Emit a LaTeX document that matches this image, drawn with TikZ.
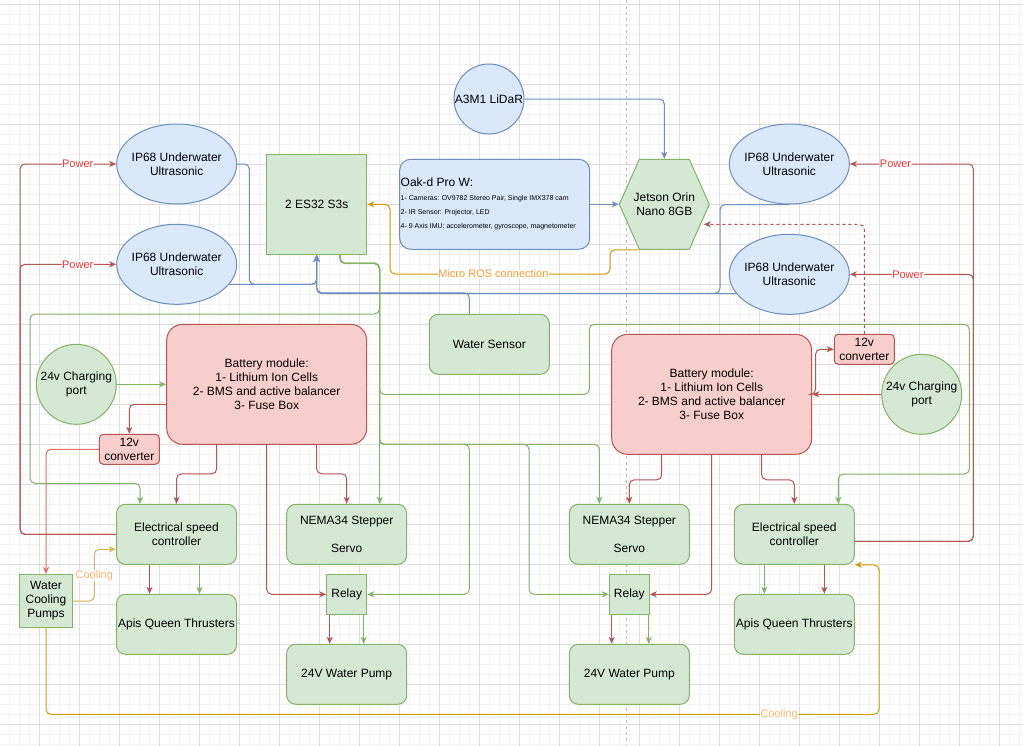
\documentclass[tikz,border=0pt]{standalone}
\usepackage{fontspec}
\setmainfont{Liberation Sans}
\usetikzlibrary{shapes.geometric, arrows.meta}

\definecolor{blueFill}{HTML}{DAE8FC}
\definecolor{blueDraw}{HTML}{6C8EBF}
\definecolor{greenFill}{HTML}{D5E8D4}
\definecolor{greenDraw}{HTML}{82B366}
\definecolor{redFill}{HTML}{F8CECC}
\definecolor{redDraw}{HTML}{B85450}
\definecolor{pinkDraw}{HTML}{EA6B66}
\definecolor{orangeDraw}{HTML}{D79B00}
\definecolor{yellowDraw}{HTML}{D6B656}
\definecolor{powerText}{HTML}{FF3333}
\definecolor{rosText}{HTML}{FF9933}
\definecolor{coolText}{HTML}{FFB570}
\definecolor{gridMajor}{HTML}{DEDEDE}
\definecolor{gridMinor}{HTML}{F3F3F3}

\tikzstyle{sensors} = [ellipse, minimum width=120pt, minimum height=80pt, inner xsep=-15pt, inner ysep=0pt, align=center, draw=blueDraw, fill=blueFill]
\tikzstyle{lidarNode} = [circle, minimum size=70pt, inner sep=0pt, align=center, draw=blueDraw, fill=blueFill]
\tikzstyle{cameraBox} = [rectangle, rounded corners=11pt, minimum width=190pt, minimum height=90pt, text width=188pt, inner sep=1pt, align=flush left, draw=blueDraw, fill=blueFill]
\tikzstyle{controllers} = [rectangle, rounded corners=9pt, minimum width=120pt, minimum height=60pt, inner sep=1pt, align=center, draw=greenDraw, fill=greenFill]
\tikzstyle{boards} = [rectangle, inner sep=1pt, align=center, draw=greenDraw, fill=greenFill]
\tikzstyle{chargers} = [circle, minimum size=80pt, inner sep=1pt, align=center, draw=greenDraw, fill=greenFill]
\tikzstyle{batteries} = [rectangle, rounded corners=16pt, minimum width=200pt, minimum height=120pt, inner sep=1pt, align=center, draw=redDraw, fill=redFill]
\tikzstyle{converters} = [rectangle, rounded corners=4pt, minimum width=60pt, minimum height=30pt, inner sep=1pt, align=center, draw=redDraw, fill=redFill]
\tikzstyle{jetsonHex} = [draw=greenDraw, fill=greenFill, line join=round]
\tikzstyle{jetsonText} = [rectangle, minimum size=90pt, inner sep=1pt, align=center]
\tikzstyle{arrow} = [line width=1pt, rounded corners=5pt, ->, >={Stealth[length=7pt, width=6pt, inset=2pt]}]
\tikzstyle{powerLine} = [arrow, draw=redDraw, fill=none]
\tikzstyle{signalLine} = [arrow, draw=greenDraw, fill=none]
\tikzstyle{dataLine} = [arrow, draw=blueDraw, fill=none]
\tikzstyle{rosLine} = [arrow, draw=orangeDraw, fill=none]
\tikzstyle{coolMain} = [arrow, draw=orangeDraw, fill=none]
\tikzstyle{coolFeed} = [arrow, draw=yellowDraw, fill=none]
\tikzstyle{converterFeed} = [arrow, draw=pinkDraw, fill=none]
\tikzstyle{powerLabel} = [fill=white, inner sep=0.5pt, text=powerText, font=\fontsize{11pt}{13pt}\selectfont]
\tikzstyle{rosLabel} = [fill=white, inner sep=0.5pt, text=rosText, font=\fontsize{11pt}{13pt}\selectfont]
\tikzstyle{coolLabel} = [fill=white, inner sep=0.5pt, text=coolText, font=\fontsize{11pt}{13pt}\selectfont]

\begin{document}
\begin{tikzpicture}[x=1pt, y=-1pt, node distance=90pt, line width=1pt, font=\fontsize{12pt}{14pt}\selectfont]

        \useasboundingbox (0,0) rectangle (1023,745);
        \fill[white] (0,0) rectangle (1023,745);
        \begin{scope}[xshift=-0.5pt, yshift=-4.3pt]
            \draw[gridMinor, line width=0.6pt, step=10pt] (-10,760) grid (1040,-10);
            \draw[gridMajor, line width=0.6pt, step=40pt] (-40,760) grid (1040,-40);
        \end{scope}
        \draw[gray!50, line width=0.8pt, dash pattern=on 3pt off 3pt] (626.7,0) -- (626.7,745);

        % sensors and computers
        \node (lidar) [lidarNode] at (489,99) {A3M1 LiDaR};
        \node (oak) [cameraBox] at (494.7,204.3) {Oak-d Pro W:\\
            {\fontsize{7pt}{14.5pt}\selectfont 1- Cameras: OV9782 Stereo Pair, Single IMX378 cam}\\
            {\fontsize{7pt}{14.5pt}\selectfont 2- IR Sensor: Projector, LED}\\
            {\fontsize{7pt}{14.5pt}\selectfont 4- 9 Axis IMU: accelerometer, gyroscope, magnetometer}};
        \coordinate (jetsonC) at (664.3,204.3);
        \draw[jetsonHex] ([xshift=-45pt]jetsonC) -- ++(20,-45) -- ++(50,0) -- ++(20,45) -- ++(-20,45) -- ++(-50,0) -- cycle;
        \node (jetson) [jetsonText] at (jetsonC) {Jetson Orin\\Nano 8GB};

        \node (esp) [boards, minimum size=100pt] at (316.7,204.3) {2 ES32 S3s};
        \node (ipLeftTop) [sensors] at (176.7,164) {IP68 Underwater\\Ultrasonic};
        \node (ipLeftBottom) [sensors, below of=ipLeftTop, yshift=-10.3pt] {IP68 Underwater\\Ultrasonic};
        \node (ipRightTop) [sensors] at (789.3,164) {IP68 Underwater\\Ultrasonic};
        \node (ipRightBottom) [sensors, below of=ipRightTop, yshift=-20.3pt] {IP68 Underwater\\Ultrasonic};
        \node (waterSensor) [controllers] at (489.3,344.3) {Water Sensor};

        % left power side
        \node (batLeft) [batteries] at (266.7,384.3) {Battery module:\\1- Lithium Ion Cells\\2- BMS and active balancer\\3- Fuse Box};
        \node (chargeLeft) [chargers] at (76.3,384.3) {24v Charging\\port};
        \node (convLeft) [converters] at (129.3,449.3) {12v\\converter};
        \node (escLeft) [controllers] at (176.5,534.3) {Electrical speed\\controller};
        \node (thrLeft) [controllers, below of=escLeft] {Apis Queen Thrusters};
        \node (coolPump) [boards, minimum size=53pt] at (46,601) {Water\\Cooling\\Pumps};
        \node (nemaLeft) [controllers] at (346.7,534.3) {NEMA34 Stepper\\[14pt]Servo};
        \node (relayLeft) [boards, minimum size=40pt, below of=nemaLeft, yshift=30pt] {Relay};
        \node (pumpLeft) [controllers, below of=nemaLeft, yshift=-50pt] {24V Water Pump};

        % right power side
        \node (batRight) [batteries] at (711.7,394.3) {Battery module:\\1- Lithium Ion Cells\\2- BMS and active balancer\\3- Fuse Box};
        \node (convRight) [converters] at (864.3,349.3) {12v\\converter};
        \node (chargeRight) [chargers] at (921.7,394.3) {24v Charging\\port};
        \node (nemaRight) [controllers] at (629.3,534.3) {NEMA34 Stepper\\[14pt]Servo};
        \node (relayRight) [boards, minimum size=40pt, below of=nemaRight, yshift=30pt] {Relay};
        \node (pumpRight) [controllers, below of=nemaRight, yshift=-50pt] {24V Water Pump};
        \node (escRight) [controllers] at (794.3,534.3) {Electrical speed\\controller};
        \node (thrRight) [controllers, below of=escRight] {Apis Queen Thrusters};

        % sensor data
        \draw[dataLine] (ipLeftTop.east) -| (249.3,284.3) -| (esp.south);
        \draw[dataLine] (ipLeftBottom.-21) -| (esp.south);
        \draw[dataLine] (ipRightTop.south) -| (720,293.3) -| (esp.south);
        \draw[dataLine] (ipRightBottom.200) -| (esp.south);
        \draw[dataLine] ([xshift=-20pt]waterSensor.north) -- ++(0,-21) -| (esp.south);
        \draw[dataLine] (lidar.east) -| (jetson.north);
        \draw[dataLine] (oak.east) -- (jetson.west);
        \draw[rosLine] ([xshift=-26pt]jetson.south) -| (610,274) -- node[rosLabel, pos=0.53] (rosTag) {Micro ROS connection} (390,274) |- (esp.east);
        \draw[powerLine, dash pattern=on 3pt off 3pt] (convRight.north) |- ([xshift=-6pt, yshift=-20pt]jetson.east);

        % control lines
        \draw[signalLine] ([xshift=23.3pt]esp.south) |- (379.5,263.3) -- ([xshift=33pt]nemaLeft.north);
        \draw[signalLine] ([xshift=23.3pt]esp.south) |- (379.5,263.3) -- (379.5,314) -| (30,483.3) -| ([xshift=-36.5pt]escLeft.north);
        \draw[signalLine] ([xshift=23.3pt]esp.south) |- (379.5,263.3) -- (379.5,394.3) -| (589.3,324.3) -| (969.3,474) -| ([xshift=44pt]escRight.north);
        \draw[signalLine] ([xshift=23.3pt]esp.south) |- (379.5,263.3) -- (379.5,444.3) -| (469.3,594.3) -- (relayLeft.east);
        \draw[signalLine] ([xshift=23.3pt]esp.south) |- (379.5,263.3) -- (379.5,444.3) -| (529,594.3) -- (relayRight.west);
        \draw[signalLine] ([xshift=23.3pt]esp.south) |- (379.5,263.3) -- (379.5,444.3) -| ([xshift=-30pt]nemaRight.north);

        % batteries
        \draw[signalLine] (chargeLeft.east) -- (batLeft.west);
        \draw[powerLine] ([yshift=-20pt]batLeft.west) -| (convLeft.north);
        \draw[converterFeed] (convLeft.west) -| (coolPump.north);
        \draw[powerLine] ([xshift=-50pt]batLeft.south) -- ++(0,29) -| (escLeft.north);
        \draw[powerLine] ([xshift=50pt]batLeft.south) -- ++(0,29) -| (nemaLeft.north);
        \draw[powerLine] (batLeft.south) |- (relayLeft.west);
        \draw[powerLine] (chargeRight.west) -- (batRight.east);
        \draw[powerLine] (batRight.east) -- ++(3.3,0) |- (convRight.west);
        \draw[powerLine] ([xshift=-50pt]batRight.south) -- ++(0,25) -| (nemaRight.north);
        \draw[powerLine] ([xshift=50pt]batRight.south) -- ++(0,25) -| (escRight.north);
        \draw[powerLine] (batRight.south) |- (relayRight.east);

        % thrusters and pumps
        \draw[powerLine] ([xshift=-27pt]escLeft.south) -- ([xshift=-27pt]thrLeft.north);
        \draw[signalLine] ([xshift=23pt]escLeft.south) -- ([xshift=23pt]thrLeft.north);
        \draw[signalLine] ([xshift=-30pt]escRight.south) -- ([xshift=-30pt]thrRight.north);
        \draw[powerLine] ([xshift=30pt]escRight.south) -- ([xshift=30pt]thrRight.north);
        \draw[powerLine] ([xshift=-17pt]relayLeft.south) -- ([xshift=-17pt]pumpLeft.north);
        \draw[signalLine] ([xshift=17pt]relayLeft.south) -- ([xshift=17pt]pumpLeft.north);
        \draw[powerLine] ([xshift=-17.6pt]relayRight.south) -- ([xshift=-17.6pt]pumpRight.north);
        \draw[signalLine] ([xshift=19.5pt]relayRight.south) -- ([xshift=19.5pt]pumpRight.north);

        % power to the ultrasonics
        \draw[powerLine] (escLeft.west) -| (20,164) -- node[powerLabel, pos=0.6] (powerTag1) {Power} (ipLeftTop.west);
        \draw[powerLine] (escLeft.west) -| (20,264.3) -- node[powerLabel, pos=0.6] (powerTag2) {Power} (ipLeftBottom.west);
        \draw[powerLine] ([yshift=-7pt]escRight.east) -| (973.3,164) -- node[powerLabel, pos=0.63] (powerTag3) {Power} (ipRightTop.east);
        \draw[powerLine] ([yshift=-7pt]escRight.east) -| (973.3,274.3) -- node[powerLabel, pos=0.53] (powerTag4) {Power} (ipRightBottom.east);

        % cooling
        \draw[coolFeed] (coolPump.east) -| node[coolLabel, pos=0.75] (coolTag1) {Cooling} (94.3,549.3) -- ([yshift=-15pt]escLeft.west);
        \draw[coolMain] (coolPump.south) -- (46,714.3) -- node[coolLabel, pos=0.88] (coolTag2) {Cooling} (879,714.3) |- (escRight.south east);

\end{tikzpicture}
\end{document}
